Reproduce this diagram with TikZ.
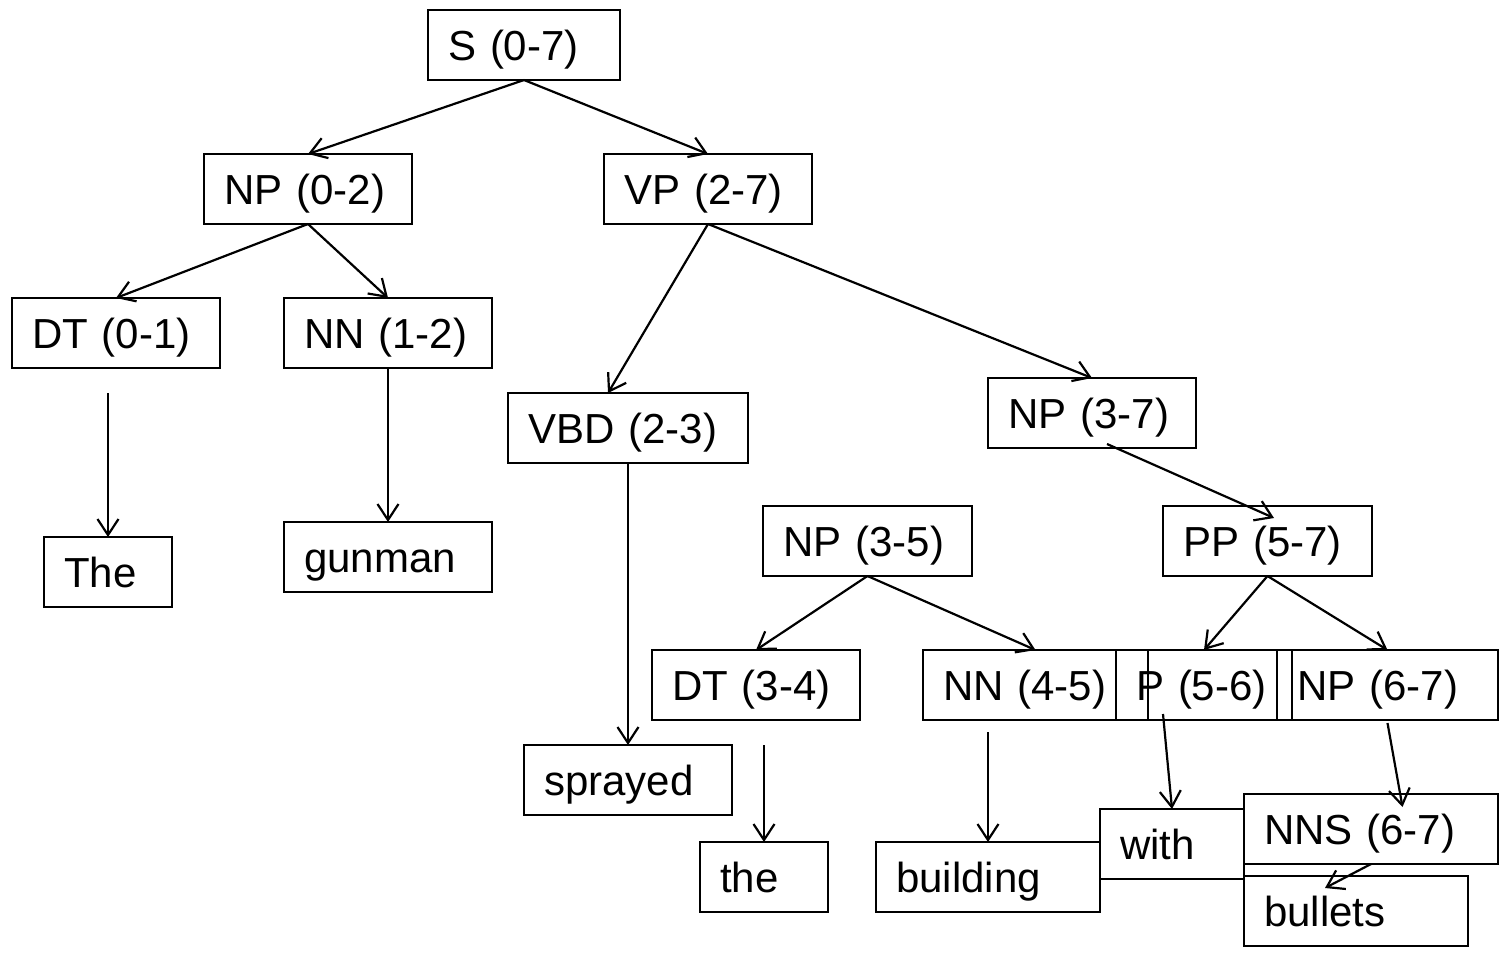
\documentclass[tikz,border=0pt]{standalone}
\usepackage{fontspec}
\setmainfont{Liberation Sans}
\usetikzlibrary{arrows.meta,calc}
\tikzset{
  tbox/.style={draw, line width=2.2pt, inner xsep=20pt, inner ysep=0pt, outer sep=0pt,
    text height=30pt, text depth=0pt, minimum height=70pt, anchor=north west, align=left,
    font=\fontsize{42pt}{50pt}\selectfont},
  arr/.style={line width=2.2pt, -{Straight Barb[length=16pt,width=21pt]}}
}
\begin{document}
\begin{tikzpicture}[x=1pt,y=-1pt]
\fill[white] (0,0) rectangle (1500,954);
\useasboundingbox (0,0) rectangle (1500,954);
% boxes
\node[tbox, text width=152pt] (s) at (428,10) {S (0-7)};
\node[tbox, text width=168pt] (np02) at (204,154) {NP (0-2)};
\node[tbox, text width=168pt] (vp27) at (604,154) {VP (2-7)};
\node[tbox, text width=168pt] (dt01) at (12,298) {DT (0-1)};
\node[tbox, text width=168pt] (nn12) at (284,298) {NN (1-2)};
\node[tbox, text width=200pt] (vbd) at (508,393) {VBD (2-3)};
\node[tbox, text width=168pt] (np37) at (988,378) {NP (3-7)};
\node[tbox, text width=88pt] (The) at (44,537) {The};
\node[tbox, text width=168pt] (gunman) at (284,522) {gunman};
\node[tbox, text width=169pt] (np35) at (763,506) {NP (3-5)};
\node[tbox, text width=169pt] (pp57) at (1163,506) {PP (5-7)};
\node[tbox, text width=168pt] (dt34) at (652,650) {DT (3-4)};
\node[tbox, text width=185pt] (nn45) at (923,650) {NN (4-5)};
\node[tbox, text width=136pt] (p56) at (1116,650) {P (5-6)};
\node[tbox, text width=181pt] (np67) at (1277,650) {NP (6-7)};
\node[tbox, text width=168pt] (sprayed) at (524,745) {sprayed};
\node[tbox, text width=88pt] (the) at (700,842) {the};
\node[tbox, text width=184pt] (building) at (876,842) {building};
\node[tbox, text width=104pt] (with) at (1100,809) {with};
\node[tbox, text width=214pt] (nns) at (1244,794) {NNS (6-7)};
\node[tbox, text width=184pt] (bullets) at (1244,876) {bullets};
% connectors
\draw[arr] (s.south) -- (np02.north);
\draw[arr] (s.south) -- (vp27.north);
\draw[arr] (np02.south) -- (dt01.north);
\draw[arr] (np02.south) -- (nn12.north);
\draw[arr] ($(dt01.south)+(-8,25)$) -- (The.north);
\draw[arr] (nn12.south) -- (gunman.north);
\draw[arr] (vp27.south) -- ($(vbd.north)+(-20,0)$);
\draw[arr] (vp27.south) -- (np37.north);
\draw[arr] (vbd.south) -- (sprayed.north);
\draw[arr] ($(np37.south)+(15,-4)$) -- ($(pp57.north)+(6.5,12)$);
\draw[arr] (pp57.south) -- (p56.north);
\draw[arr] (pp57.south) -- (np67.north);
\draw[arr] (np35.south) -- (dt34.north);
\draw[arr] (np35.south) -- (nn45.north);
\draw[arr] ($(dt34.south)+(8,25)$) -- (the.north);
\draw[arr] ($(nn45.south)+(-47.5,12)$) -- (building.north);
\draw[arr] ($(p56.south)+(-41,-6)$) -- (with.north);
\draw[arr] ($(np67.south)+(0,3)$) -- ($(nns.north)+(31.5,13)$);
\draw[arr] (nns.south) -- ($(bullets.north)+(-31,12)$);
\end{tikzpicture}
\end{document}
